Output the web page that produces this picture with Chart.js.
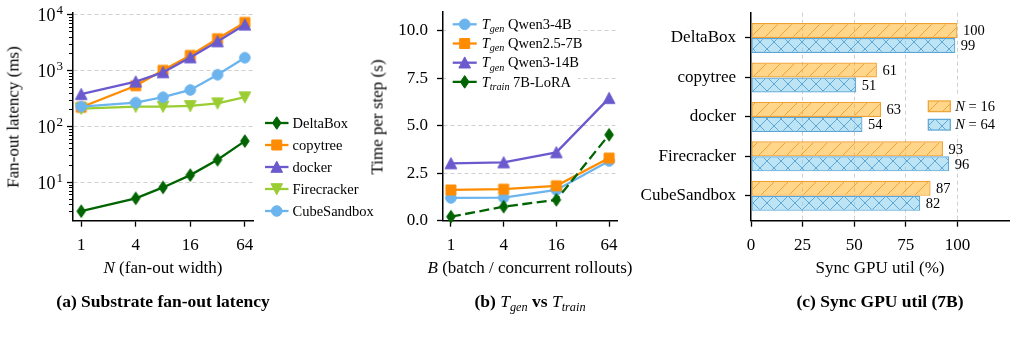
<!DOCTYPE html>
<html>
<head>
<meta charset="utf-8">
<title>Substrate fan-out, Tgen vs Ttrain, Sync GPU util</title>
<script src="https://cdn.jsdelivr.net/npm/chart.js@4.4.1/dist/chart.umd.min.js"></script>
<style>
  body { margin: 0; background: #fff; }
  #wrap { position: relative; width: 1016px; height: 346px; overflow: hidden;
          font-family: "Liberation Serif", "DejaVu Serif", serif; color: #000; }
  canvas { position: absolute; top: 0; }
  .t { position: absolute; white-space: nowrap; font-size: 17px; line-height: 1;
       transform: translate(-50%, -50%); }
  .rot { transform: translate(-50%, -50%) rotate(-90deg); }
  .cap { font-size: 17.5px; font-weight: bold; }
  .m { font-style: italic; font-weight: normal; }
  .m sub { font-size: 0.7em; vertical-align: -0.3em; line-height: 0; }
</style>
</head>
<body>
<div id="wrap">
  <canvas id="cA" width="380" height="346" style="left:0"></canvas>
  <canvas id="cB" width="330" height="346" style="left:340px"></canvas>
  <canvas id="cC" width="396" height="346" style="left:620px"></canvas>

  <div class="t rot" style="left:12.5px;top:117px">Fan-out latency (ms)</div>
  <div class="t" style="left:163px;top:266.5px"><i>N</i> (fan-out width)</div>
  <div class="t cap" style="left:163px;top:302px">(a) Substrate fan-out latency</div>

  <div class="t rot" style="left:377px;top:116.5px">Time per step (s)</div>
  <div class="t" style="left:530px;top:266.5px"><i>B</i> (batch / concurrent rollouts)</div>
  <div class="t cap" style="left:530px;top:302px">(b) <span class="m">T<sub>gen</sub></span> vs <span class="m">T<sub>train</sub></span></div>

  <div class="t" style="left:880px;top:266.5px">Sync GPU util (%)</div>
  <div class="t cap" style="left:880px;top:302px">(c) Sync GPU util (7B)</div>
</div>

<script>
// (a) fan-out latency, ms
const fanoutN = [1, 4, 8, 16, 32, 64];
const latDeltaBox = [3.0, 5.1, 8.0, 13.3, 25, 54];
const latCopytree = [218, 530, 1000, 1850, 3680, 7200];
const latDocker = [373, 627, 920, 1700, 3290, 6550];
const latFirecracker = [206, 224, 224, 230, 257, 330];
const latCubeSandbox = [224, 264, 330, 445, 834, 1680];
const substrates = ["DeltaBox", "copytree", "docker", "Firecracker", "CubeSandbox"];
const fanoutTicks = [1, 4, 16, 64];
const latencyTicks = [10, 100, 1000, 10000];

// (b) time per step, s
const batchB = [1, 4, 16, 64];
const tgenQwen3_4B = [1.2, 1.22, 1.62, 3.15];
const tgenQwen25_7B = [1.62, 1.66, 1.84, 3.3];
const tgenQwen3_14B = [3.02, 3.07, 3.6, 6.46];
const ttrainLoRA = [0.21, 0.74, 1.1, 4.53];
const genModels = ["Qwen3-4B", "Qwen2.5-7B", "Qwen3-14B"];
const trainModel = "7B-LoRA";
const batchTicks = [1, 4, 16, 64];
const timeTicks = [0, 2.5, 5, 7.5, 10];

// (c) sync GPU util, %
const utilSeriesN = [16, 64];
const utilN16 = [100, 61, 63, 93, 87];
const utilN64 = [99, 51, 54, 96, 82];
const utilTicks = [0, 25, 50, 75, 100];

const FONT = '"Liberation Serif", "DejaVu Serif", serif';
const GRID = "#cfcfcf";
const NONE = "rgba(0,0,0,0)";

Chart.defaults.font.family = FONT;
Chart.defaults.font.size = 17;
Chart.defaults.color = "#000";
Chart.defaults.animation = false;
Chart.defaults.responsive = false;
Chart.defaults.plugins.legend.display = false;
Chart.defaults.plugins.tooltip.enabled = false;

function drawMarker(ctx, shape, x, y, color) {
  ctx.save();
  ctx.fillStyle = color;
  ctx.strokeStyle = color;
  ctx.lineWidth = 1;
  ctx.setLineDash([]);
  ctx.beginPath();
  if (shape === "circle") {
    ctx.arc(x, y, 5.3, 0, Math.PI * 2);
  } else if (shape === "square") {
    ctx.rect(x - 5, y - 5, 10, 10);
  } else if (shape === "triUp") {
    ctx.moveTo(x, y - 5.8); ctx.lineTo(x + 5.8, y + 5.3); ctx.lineTo(x - 5.8, y + 5.3); ctx.closePath();
  } else if (shape === "triDown") {
    ctx.moveTo(x, y + 5.8); ctx.lineTo(x + 5.8, y - 5.3); ctx.lineTo(x - 5.8, y - 5.3); ctx.closePath();
  } else {
    // thin diamond
    ctx.moveTo(x, y - 6.3); ctx.lineTo(x + 4.3, y); ctx.lineTo(x, y + 6.3); ctx.lineTo(x - 4.3, y); ctx.closePath();
  }
  ctx.fill();
  ctx.stroke();
  ctx.restore();
}

function markerImage(shape, color) {
  const c = document.createElement("canvas");
  c.width = 16; c.height = 16;
  drawMarker(c.getContext("2d"), shape, 8, 8, color);
  return c;
}

function hatch(fill, line, size, cross) {
  const c = document.createElement("canvas");
  c.width = size; c.height = size;
  const g = c.getContext("2d");
  g.fillStyle = fill;
  g.fillRect(0, 0, size, size);
  g.strokeStyle = line;
  g.lineWidth = 1;
  g.beginPath();
  for (let k = -1; k <= 1; k++) {
    g.moveTo(k * size, size); g.lineTo(k * size + size, 0);
    if (cross) { g.moveTo(k * size, 0); g.lineTo(k * size + size, size); }
  }
  g.stroke();
  return g.createPattern(c, "repeat");
}

function lineSet(label, xs, ys, color, shape, idx, dash) {
  return {
    label: label,
    data: xs.map((x, i) => ({ x: x, y: ys[i] })),
    borderColor: color,
    backgroundColor: color,
    borderWidth: 2.3,
    borderDash: dash || [],
    pointStyle: markerImage(shape, color),
    pointRadius: 6,
    shape: shape,
    order: -idx,
    clip: false
  };
}

// fix axis box size and drop the extra label padding chart.js adds at the ends
function fixSize(w, h) {
  return s => {
    if (w) s.width = w;
    if (h) s.height = h;
    s.paddingTop = 0; s.paddingBottom = 0; s.paddingLeft = 0; s.paddingRight = 0;
  };
}

// legend with line+marker handles or hatched boxes, rich text (italic / subscripts)
const richLegend = {
  id: "richLegend",
  afterDatasetsDraw(chart, args, opts) {
    if (!opts.items) return;
    const ctx = chart.ctx;
    ctx.save();
    if (opts.bg) {
      ctx.fillStyle = "#fff";
      ctx.fillRect(opts.bg[0], opts.bg[1], opts.bg[2], opts.bg[3]);
    }
    opts.items.forEach((item, i) => {
      const y = opts.y + i * opts.spacing;
      const ds = chart.data.datasets[item.ds];
      if (opts.kind === "box") {
        ctx.fillStyle = ds.backgroundColor;
        ctx.fillRect(opts.x, y - opts.h / 2, opts.len, opts.h);
        ctx.strokeStyle = ds.borderColor;
        ctx.lineWidth = 1.2;
        ctx.strokeRect(opts.x, y - opts.h / 2, opts.len, opts.h);
      } else {
        ctx.strokeStyle = ds.borderColor;
        ctx.lineWidth = ds.borderWidth;
        ctx.setLineDash(ds.borderDash || []);
        ctx.beginPath();
        ctx.moveTo(opts.x, y);
        ctx.lineTo(opts.x + opts.len, y);
        ctx.stroke();
        ctx.setLineDash([]);
        drawMarker(ctx, ds.shape, opts.x + opts.len / 2, y, ds.borderColor);
      }
      let tx = opts.x + opts.len + opts.gap;
      ctx.fillStyle = "#000";
      ctx.textAlign = "left";
      ctx.textBaseline = "alphabetic";
      item.text.forEach(seg => {
        const size = seg.sub ? opts.size * 0.7 : opts.size;
        ctx.font = (seg.it ? "italic " : "") + size + "px " + FONT;
        ctx.fillText(seg.t, tx, y + opts.size * 0.33 + (seg.sub ? opts.size * 0.22 : 0));
        tx += ctx.measureText(seg.t).width;
      });
    });
    ctx.restore();
  }
};

// 10^k labels and minor ticks for a log axis
const logAxisExtras = {
  id: "logAxisExtras",
  afterDraw(chart, args, opts) {
    if (!opts.axis) return;
    const s = chart.scales[opts.axis];
    const ctx = chart.ctx;
    ctx.save();
    ctx.fillStyle = "#000";
    ctx.textAlign = "right";
    ctx.textBaseline = "alphabetic";
    s.ticks.forEach(t => {
      const y = s.getPixelForValue(t.value);
      const e = String(Math.round(Math.log10(t.value)));
      const xr = s.right - opts.gap;
      ctx.font = "13px " + FONT;
      ctx.fillText(e, xr, y - 0.5);
      const ew = ctx.measureText(e).width;
      ctx.font = "18px " + FONT;
      ctx.fillText("10", xr - ew - 1, y + 6.5);
    });
    ctx.strokeStyle = "#000";
    ctx.lineWidth = 1;
    ctx.beginPath();
    for (let k = Math.floor(Math.log10(s.min)); k <= Math.floor(Math.log10(s.max)); k++) {
      for (let m = 2; m <= 9; m++) {
        const v = m * Math.pow(10, k);
        if (v < s.min || v > s.max) continue;
        const y = Math.round(s.getPixelForValue(v)) + 0.5;
        ctx.moveTo(s.right - 4, y);
        ctx.lineTo(s.right, y);
      }
    }
    ctx.stroke();
    ctx.restore();
  }
};

// value labels at bar ends
const barValues = {
  id: "barValues",
  afterDatasetsDraw(chart, args, opts) {
    if (!opts.show) return;
    const ctx = chart.ctx;
    ctx.save();
    ctx.font = "14.5px " + FONT;
    ctx.fillStyle = "#000";
    ctx.textAlign = "left";
    ctx.textBaseline = "middle";
    chart.data.datasets.forEach((ds, di) => {
      chart.getDatasetMeta(di).data.forEach((bar, i) => {
        ctx.fillText(String(ds.data[i].x), bar.x + 5.5, bar.y + 1);
      });
    });
    ctx.restore();
  }
};

const tickOpts = { autoSkip: false, maxRotation: 0, padding: 9 };
const axisBorder = { color: "#000", width: 1.5, dash: [4, 3] };
function gridOpts(hideZero) {
  return {
    color: c => (!hideZero ? GRID : (c.tick && c.tick.value === 0 ? NONE : GRID)),
    lineWidth: 1,
    tickLength: 6,
    tickColor: "#000",
    tickWidth: 1.3,
    offset: false
  };
}

// ---------- (a) ----------
const colA = ["#006400", "#ff8c00", "#6a5acd", "#9acd32", "#6cb4ee"];
const shapeA = ["thinDiamond", "square", "triUp", "triDown", "circle"];
const seriesA = [latDeltaBox, latCopytree, latDocker, latFirecracker, latCubeSandbox];

new Chart(document.getElementById("cA"), {
  type: "line",
  data: {
    datasets: seriesA.map((ys, i) => lineSet(substrates[i], fanoutN, ys, colA[i], shapeA[i], i))
  },
  options: {
    layout: { padding: { top: 13, right: 127, left: 0, bottom: 0 } },
    plugins: {
      richLegend: {
        x: 265, y: 123, spacing: 22, len: 23.5, gap: 4, size: 14.5,
        items: substrates.map((name, i) => ({ ds: i, text: [{ t: name }] }))
      },
      logAxisExtras: { axis: "y", gap: 10 }
    },
    scales: {
      x: {
        type: "logarithmic", min: 0.812, max: 78.8,
        afterBuildTicks: s => { s.ticks = fanoutTicks.map(v => ({ value: v })); },
        afterFit: fixSize(0, 125.3),
        ticks: Object.assign({ callback: v => String(v) }, tickOpts),
        grid: Object.assign(gridOpts(false), { drawOnChartArea: false }),
        border: axisBorder
      },
      y: {
        type: "logarithmic", min: 2.03, max: 10620,
        afterBuildTicks: s => { s.ticks = latencyTicks.map(v => ({ value: v })); },
        afterFit: fixSize(73, 0),
        ticks: { display: false },
        grid: gridOpts(false),
        border: axisBorder
      }
    }
  },
  plugins: [richLegend, logAxisExtras]
});

// ---------- (b) ----------
const colB = ["#6cb4ee", "#ff8c00", "#6a5acd", "#006400"];
const shapeB = ["circle", "square", "triUp", "thinDiamond"];
const seriesB = [tgenQwen3_4B, tgenQwen25_7B, tgenQwen3_14B, ttrainLoRA];
const labelsB = genModels.concat([trainModel]);

new Chart(document.getElementById("cB"), {
  type: "line",
  data: {
    datasets: seriesB.map((ys, i) =>
      lineSet(labelsB[i], batchB, ys, colB[i], shapeB[i], i, i === 3 ? [10, 4.5] : null))
  },
  options: {
    layout: { padding: { top: 12, right: 53, left: 0, bottom: 0 } },
    plugins: {
      richLegend: {
        x: 112.7, y: 24.3, spacing: 19.2, len: 24, gap: 5, size: 14.5,
        bg: [106, 13, 132, 78],
        items: labelsB.map((name, i) => ({
          ds: i,
          text: [{ t: "T", it: true }, { t: i === 3 ? "train" : "gen", it: true, sub: true }, { t: " " + name }]
        }))
      }
    },
    scales: {
      x: {
        type: "logarithmic", min: 0.812, max: 78.8,
        afterBuildTicks: s => { s.ticks = batchTicks.map(v => ({ value: v })); },
        afterFit: fixSize(0, 125.3),
        ticks: Object.assign({ callback: v => String(v) }, tickOpts),
        grid: Object.assign(gridOpts(false), { drawOnChartArea: false }),
        border: axisBorder
      },
      y: {
        type: "linear", min: 0, max: 11,
        afterBuildTicks: s => { s.ticks = timeTicks.map(v => ({ value: v })); },
        afterFit: fixSize(103, 0),
        ticks: Object.assign({ callback: v => v.toFixed(1) }, tickOpts),
        grid: gridOpts(true),
        border: axisBorder
      }
    }
  },
  plugins: [richLegend]
});

// ---------- (c) ----------
const fillN16 = hatch("rgba(255,165,0,0.46)", "#efa235", 14, false);
const fillN64 = hatch("rgba(135,206,235,0.55)", "#5fa8d6", 14, true);

new Chart(document.getElementById("cC"), {
  type: "bar",
  data: {
    datasets: [
      { label: "N=16", data: utilN16.map((v, i) => ({ x: v, y: i })), backgroundColor: fillN16,
        borderColor: "#f0a030", borderWidth: 1.2, borderSkipped: false,
        categoryPercentage: 0.76, barPercentage: 1 },
      { label: "N=64", data: utilN64.map((v, i) => ({ x: v, y: i })), backgroundColor: fillN64,
        borderColor: "#5aa5d5", borderWidth: 1.2, borderSkipped: false,
        categoryPercentage: 0.76, barPercentage: 1 }
    ]
  },
  options: {
    indexAxis: "y",
    layout: { padding: { top: 12.7, right: 7, left: 0, bottom: 0 } },
    plugins: {
      barValues: { show: true },
      richLegend: {
        kind: "box", x: 308.3, y: 106.3, spacing: 18.4, len: 22, h: 10.7, gap: 5, size: 14.5,
        bg: [300, 95, 88, 40],
        items: utilSeriesN.map((n, i) => ({ ds: i, text: [{ t: "N", it: true }, { t: " = " + n }] }))
      }
    },
    scales: {
      x: {
        type: "linear", min: 0, max: 125, offset: false,
        afterBuildTicks: s => { s.ticks = utilTicks.map(v => ({ value: v })); },
        afterFit: fixSize(0, 125.3),
        ticks: Object.assign({ callback: v => String(v) }, tickOpts),
        grid: gridOpts(true),
        border: axisBorder
      },
      y: {
        type: "linear", reverse: true, min: -0.64, max: 4.63, offset: false,
        afterBuildTicks: s => { s.ticks = substrates.map((_, i) => ({ value: i })); },
        afterFit: fixSize(131, 0),
        ticks: Object.assign({ callback: v => substrates[v] }, tickOpts),
        grid: Object.assign(gridOpts(false), { drawOnChartArea: false }),
        border: axisBorder
      }
    }
  },
  plugins: [barValues, richLegend]
});
</script>
</body>
</html>
